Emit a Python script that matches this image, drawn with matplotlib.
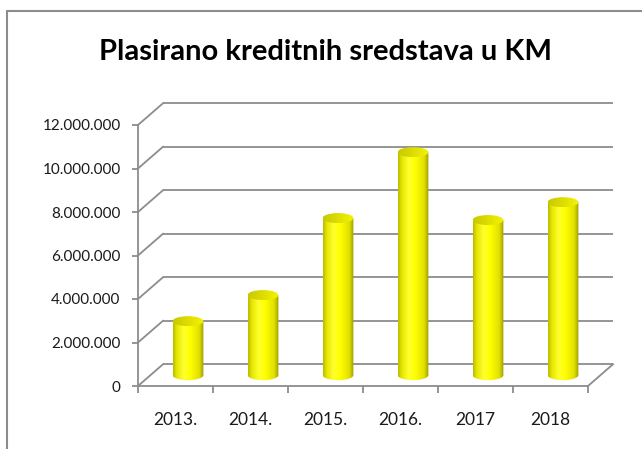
import numpy as np
import matplotlib
matplotlib.use("Agg")
import matplotlib.pyplot as plt
from matplotlib.patches import Ellipse, PathPatch, Rectangle
from matplotlib.path import Path
from matplotlib.colors import LinearSegmentedColormap
from matplotlib.ticker import FuncFormatter, FixedLocator

categories = ["2013.", "2014.", "2015.", "2016.", "2017", "2018"]
values = [2480000, 3680000, 7220000, 10250000, 7130000, 7950000]
y_ticks = [0, 2000000, 4000000, 6000000, 8000000, 10000000, 12000000]
title = "Plasirano kreditnih sredstava u KM"

W, H = 642, 449
fig = plt.figure(figsize=(W / 100, H / 100), dpi=100)
plt.rcParams['font.family'] = ['Lato', 'DejaVu Sans']

# outer chart border (cut off at right/bottom like the reference)
fig.patches.append(Rectangle((7 / W, -0.05), 1.2, (H - 11) / H + 0.05,
                             transform=fig.transFigure, fill=False,
                             edgecolor='#8c8c8c', linewidth=1.5))

ax = fig.add_axes([138 / W, 63 / H, 450 / W, 261 / H])
ax.set_facecolor('none')

DX, DY = 1 / 3, 1000000  # depth offset of the 3D box in data units
GRID = '#8c8c8c'
n = len(categories)
x_left, x_right = -0.5, n - 0.5

# back wall gridlines + left side wall diagonals
for v in y_ticks:
    ax.plot([x_left + DX, x_right + DX], [v + DY, v + DY], color=GRID, lw=1.3,
            clip_on=False, zorder=1, solid_capstyle='butt')
    ax.plot([x_left, x_left + DX], [v, v + DY], color=GRID, lw=1.3,
            clip_on=False, zorder=1)
# floor right edge
ax.plot([x_right, x_right + DX], [0, DY], color=GRID, lw=1.3, clip_on=False, zorder=1)

# cylinder gradients
body_cmap = LinearSegmentedColormap.from_list(
    'body', [(0.0, '#b8b800'), (0.12, '#e6e600'), (0.35, '#ffff30'),
             (0.55, '#ffff00'), (0.85, '#e0e000'), (1.0, '#9a9a00')])
top_cmap = LinearSegmentedColormap.from_list(
    'top', [(0.0, '#c8c800'), (0.6, '#e2e200'), (1.0, '#f4f400')])
grad = np.linspace(0, 1, 256).reshape(1, -1)

bw = 0.41
eh = 460000
for i, v in enumerate(values):
    cx = i + DX / 2
    base = DY / 2
    top = v + DY / 2
    x0, x1 = cx - bw / 2, cx + bw / 2
    t = np.linspace(np.pi, 2 * np.pi, 40)
    ex = cx + bw / 2 * np.cos(t)
    ey = base + eh / 2 * np.sin(t)
    verts = [(x0, top)] + list(zip(ex, ey)) + [(x1, top), (x0, top)]
    codes = [Path.MOVETO] + [Path.LINETO] * (len(verts) - 2) + [Path.CLOSEPOLY]
    body = PathPatch(Path(verts, codes), facecolor='none', edgecolor='none')
    ax.add_patch(body)
    im = ax.imshow(grad, cmap=body_cmap, extent=[x0, x1, base - eh, top],
                   aspect='auto', zorder=3, interpolation='bicubic')
    im.set_clip_path(body)
    cap = Ellipse((cx, top), bw, eh, facecolor='none', edgecolor='none')
    ax.add_patch(cap)
    im2 = ax.imshow(grad, cmap=top_cmap,
                    extent=[x0, x1, top - eh / 2, top + eh / 2],
                    aspect='auto', zorder=4, interpolation='bicubic')
    im2.set_clip_path(cap)

ax.set_xlim(x_left, x_right)
ax.set_ylim(0, 12000000)

for s in ['top', 'right']:
    ax.spines[s].set_visible(False)
for s in ['left', 'bottom']:
    ax.spines[s].set_color(GRID)
    ax.spines[s].set_linewidth(1.3)

ax.yaxis.set_major_locator(FixedLocator(y_ticks))
ax.yaxis.set_major_formatter(FuncFormatter(lambda v, p: f"{int(v):,}".replace(",", ".")))
ax.tick_params(axis='y', length=4, width=1.3, color=GRID, pad=8.5,
               labelsize=11, labelcolor='#1a1a1a')

ax.xaxis.set_major_locator(FixedLocator(np.arange(n + 1) - 0.5))
ax.xaxis.set_minor_locator(FixedLocator(np.arange(n)))
ax.set_xticklabels([], minor=False)
ax.set_xticklabels(categories, minor=True)
ax.tick_params(axis='x', which='major', length=5, width=1.3, color=GRID)
ax.tick_params(axis='x', which='minor', length=0, pad=19, labelsize=12.5,
               labelcolor='#1a1a1a')

fig.text(326 / W, 1 - 52 / H, title, ha='center', va='center',
         fontsize=21, fontweight='bold', color='black')

fig.savefig('out.png', dpi=100)
